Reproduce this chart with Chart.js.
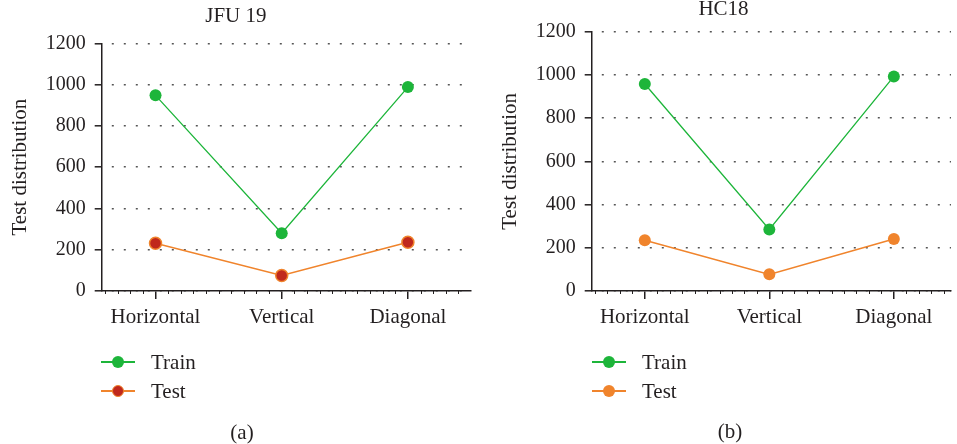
<!DOCTYPE html>
<html>
<head>
<meta charset="utf-8">
<title>Test distribution</title>
<script src="https://cdn.jsdelivr.net/npm/chart.js@4/dist/chart.umd.min.js"></script>
<style>
  html, body { margin: 0; padding: 0; background: #fff; }
  #wrap { position: relative; width: 957px; height: 444px; overflow: hidden;
          font-family: 'Liberation Serif', 'Times New Roman', serif; color: #231f20; }
  canvas { position: absolute; top: 0; }
  .lg { position: absolute; height: 0; }
  .lg .ln { position: absolute; width: 34px; height: 1.5px; top: -0.75px; left: 0; }
  .lg .dot { position: absolute; width: 12px; height: 12px; border-radius: 50%;
             left: 11px; top: -6px; box-sizing: border-box; }
  .lg .tx { position: absolute; left: 50px; top: -12px; line-height: 24px;
            font-size: 21px; white-space: nowrap; }
  .cap { position: absolute; font-size: 21px; line-height: 24px; transform: translate(-50%, -50%); }
</style>
</head>
<body>
<div id="wrap">
  <canvas id="chartA" width="478" height="444" style="left:0"></canvas>
  <canvas id="chartB" width="479" height="444" style="left:478px"></canvas>

  <div class="lg" style="left:101px; top:362px">
    <div class="ln" style="background:#1db53a"></div>
    <div class="dot" style="background:#1db53a"></div>
    <div class="tx">Train</div>
  </div>
  <div class="lg" style="left:101px; top:391px">
    <div class="ln" style="background:#f0842c"></div>
    <div class="dot" style="background:#c0281c; border:1.5px solid #f0842c"></div>
    <div class="tx">Test</div>
  </div>
  <div class="cap" style="left:242px; top:432px">(a)</div>

  <div class="lg" style="left:592px; top:362px">
    <div class="ln" style="background:#1db53a"></div>
    <div class="dot" style="background:#1db53a"></div>
    <div class="tx">Train</div>
  </div>
  <div class="lg" style="left:592px; top:391px">
    <div class="ln" style="background:#f0842c"></div>
    <div class="dot" style="background:#f0842c"></div>
    <div class="tx">Test</div>
  </div>
  <div class="cap" style="left:730px; top:431px">(b)</div>
</div>

<script>
// Direction categories shared by both panels
const categories = ['Horizontal', 'Vertical', 'Diagonal'];

// JFU 19 panel
const jfuTrain = [948, 280, 988];
const jfuTest = [231, 75, 236];

// HC18 panel
const hcTrain = [958, 285, 993];
const hcTest = [235, 77, 241];

// Value axis
const yMin = 0;
const yMax = 1200;
const yStep = 200;

const INK = '#231f20';
const GREEN = '#1db53a';
const ORANGE = '#f0842c';
const RED = '#c0281c';
const FONT = "'Liberation Serif', 'Times New Roman', serif";

// Small ticks every tenth of a category along the bottom axis
const minorTicks = {
  id: 'minorTicks',
  beforeDatasetsDraw(chart) {
    const x = chart.scales.x;
    const ctx = chart.ctx;
    const y0 = x.top;
    ctx.save();
    ctx.strokeStyle = INK;
    ctx.lineWidth = 1;
    for (let k = Math.ceil(x.min * 10); k <= Math.floor(x.max * 10); k++) {
      if (k % 10 === 0) continue;
      const px = Math.round(x.getPixelForValue(k / 10)) + 0.5;
      ctx.beginPath();
      ctx.moveTo(px, y0);
      ctx.lineTo(px, y0 + 3);
      ctx.stroke();
    }
    ctx.restore();
  }
};

function points(values) {
  return values.map((v, i) => ({ x: i, y: v }));
}

function makeChart(id, title, train, test, testFill, g) {
  return new Chart(document.getElementById(id), {
    type: 'line',
    data: {
      datasets: [
        {
          label: 'Train',
          data: points(train),
          borderColor: GREEN,
          backgroundColor: GREEN,
          borderWidth: 1.3,
          pointRadius: 6,
          pointBorderWidth: 0,
          pointBackgroundColor: GREEN
        },
        {
          label: 'Test',
          data: points(test),
          borderColor: ORANGE,
          backgroundColor: testFill,
          borderWidth: 1.5,
          pointRadius: 6,
          pointBorderWidth: testFill === ORANGE ? 0 : 1.5,
          pointBorderColor: ORANGE,
          pointBackgroundColor: testFill
        }
      ]
    },
    options: {
      responsive: false,
      animation: false,
      devicePixelRatio: 1,
      layout: { padding: { left: g.padLeft, right: g.padRight, top: 0, bottom: 93 } },
      plugins: {
        legend: { display: false },
        tooltip: { enabled: false },
        title: {
          display: true,
          text: title,
          color: INK,
          font: { family: FONT, size: 21, weight: 'normal', lineHeight: 1 },
          padding: g.titlePad
        }
      },
      scales: {
        x: {
          type: 'linear',
          min: g.xMin,
          max: g.xMax,
          afterBuildTicks(scale) {
            scale.ticks = categories.map((c, i) => ({ value: i }));
          },
          afterFit(scale) { scale.height = 60; },
          ticks: {
            color: INK,
            padding: 6,
            maxRotation: 0,
            autoSkip: false,
            font: { family: FONT, size: 21 },
            callback: (v) => categories[v]
          },
          grid: {
            drawOnChartArea: false,
            drawTicks: true,
            tickLength: 8,
            color: INK,
            lineWidth: 1.5
          },
          border: { display: true, color: INK, width: 1.5 }
        },
        y: {
          min: yMin,
          max: yMax,
          afterFit(scale) { scale.width = 101.7; },
          ticks: {
            stepSize: yStep,
            color: INK,
            padding: 9,
            font: { family: FONT, size: 20 },
            callback: (v) => String(v)
          },
          grid: {
            color: '#555',
            lineWidth: 1.6,
            tickLength: 7,
            tickColor: INK,
            tickWidth: 1.5,
            tickBorderDash: []
          },
          // grid lines take their dash pattern from the border options
          border: { display: true, color: INK, width: 1.5, dash: [2, 10], dashOffset: 2.7 },
          title: {
            display: true,
            text: 'Test distribution',
            color: INK,
            font: { family: FONT, size: 21, lineHeight: 1.2 },
            padding: { top: 7.4, bottom: 0 }
          }
        }
      }
    },
    plugins: [minorTicks]
  });
}

makeChart('chartA', 'JFU 19', jfuTrain, jfuTest, RED, {
  padLeft: 0, padRight: 6.3,
  titlePad: { top: 5.5, bottom: 16.8 },
  xMin: -0.4265, xMax: 2.4961
});

makeChart('chartB', 'HC18', hcTrain, hcTest, ORANGE, {
  padLeft: 12, padRight: 0,
  titlePad: { top: -1.5, bottom: 12.2 },
  xMin: -0.4265, xMax: 2.459
});
</script>
</body>
</html>
